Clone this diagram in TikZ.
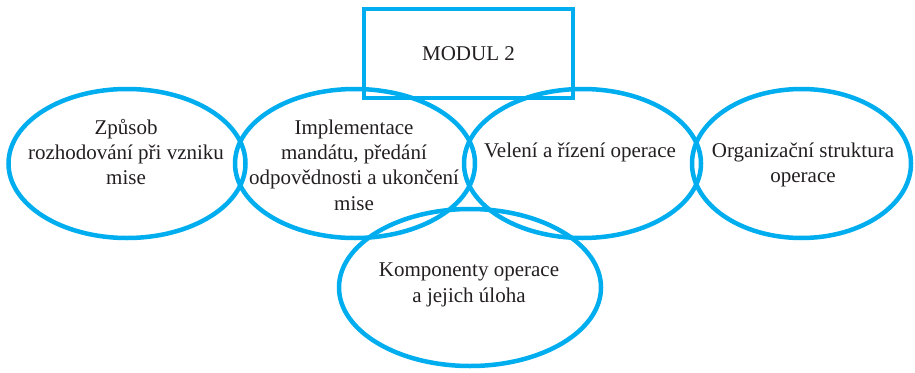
\documentclass[tikz,border=0pt]{standalone}
\usepackage{fontspec}
\setmainfont{Liberation Serif}
\usetikzlibrary{shapes.geometric}
\definecolor{modra}{HTML}{00AEEF}
\definecolor{inkoust}{HTML}{231F20}

\begin{document}
\begin{tikzpicture}[x=1pt, y=-1pt,
	oval/.style={draw=modra, line width=4.5pt, ellipse, inner sep=0pt},
	popis/.style={text=inkoust, align=center, inner sep=0pt, font=\fontsize{21}{25.3}\selectfont}]
	\useasboundingbox (0,0) rectangle (915,372);
	\node[popis, draw=modra, line width=4.5pt, minimum width=209pt, minimum height=89pt] (modul) at (468.5,53.5) {MODUL 2};
	\node[oval, minimum width=237pt, minimum height=149pt] (zpusob) at (127,163.5) {};
	\node[oval, minimum width=240pt, minimum height=149pt] (mandat) at (355,163.5) {};
	\node[oval, minimum width=237pt, minimum height=149pt] (veleni) at (582.5,163.5) {};
	\node[oval, minimum width=219pt, minimum height=149pt] (struktura) at (801.5,163.5) {};
	\node[oval, minimum width=262pt, minimum height=157pt] (komponenty) at (470,287.5) {};
	\node[popis] (tzpusob) at (126,152) {Způsob\\rozhodování při vzniku\\mise};
	\node[popis] (tmandat) at (354,165) {Implementace\\mandátu, předání\\odpovědnosti a ukončení\\mise};
	\node[popis] (tveleni) at (580,152) {Velení a řízení operace};
	\node[popis] (tstruktura) at (803,165) {Organizační struktura\\operace};
	\node[popis] (tkomponenty) at (469,285) {Komponenty operace\\a jejich úloha};
\end{tikzpicture}
\end{document}
